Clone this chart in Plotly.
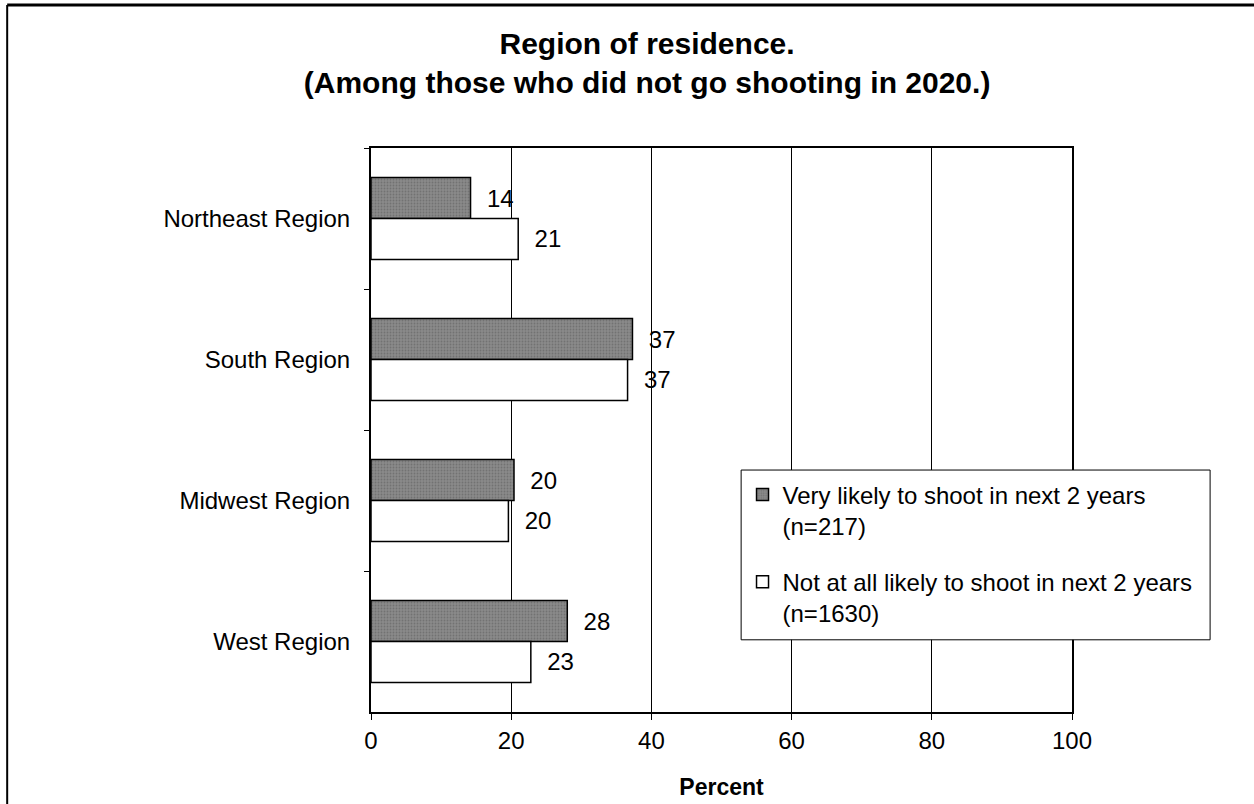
import plotly.graph_objects as go

regions = ["Northeast Region", "South Region", "Midwest Region", "West Region"]
very_likely = [14.2, 37.3, 20.4, 28.0]
not_likely = [21.0, 36.6, 19.6, 22.8]
very_name = "Very likely to shoot in next 2 years<br>(n=217)"
not_name = "Not at all likely to shoot in next 2 years<br>(n=1630)"
x_ticks = [0, 20, 40, 60, 80, 100]

font = "Liberation Sans, Arial, sans-serif"

fig = go.Figure()
fig.add_trace(go.Bar(
    y=regions, x=very_likely, name=very_name, orientation="h", legendgroup="very",
    marker=dict(color="#7c7c7c", line=dict(color="black", width=1.5),
                pattern=dict(shape=".", fgcolor="#5a5a5a", bgcolor="#8a8a8a", size=3, solidity=0.3)),
    texttemplate="  %{x:.0f}", textposition="outside", constraintext="none",
    textfont=dict(size=24, color="black", family=font), cliponaxis=False,
))
fig.add_trace(go.Bar(
    y=regions, x=not_likely, name=not_name, orientation="h", legendgroup="not",
    marker=dict(color="white", line=dict(color="black", width=1.5)),
    texttemplate="  %{x:.0f}", textposition="outside", constraintext="none",
    textfont=dict(size=24, color="black", family=font), cliponaxis=False,
))

fig.update_layout(
    width=1254, height=804,
    margin=dict(l=371, r=182, t=148, b=92),
    paper_bgcolor="white", plot_bgcolor="white",
    font=dict(family=font, size=24, color="black"),
    title=dict(text="<b>Region of residence.<br>(Among those who did not go shooting in 2020.)</b>",
               x=0.516, xref="container", xanchor="center", y=0.933, yanchor="top",
               font=dict(size=30, family=font)),
    barmode="group", bargap=0.42, bargroupgap=0,
    showlegend=True,
    legend=dict(x=0.53, y=0.425, xanchor="left", yanchor="top",
                borderwidth=0, bgcolor="rgba(0,0,0,0)",
                font=dict(size=24, family=font), itemwidth=30, valign="top",
                tracegroupgap=22, traceorder="grouped"),
)
fig.update_xaxes(
    range=[0, 100], tickvals=x_ticks, showgrid=True, gridcolor="black", gridwidth=1,
    showline=True, linecolor="black", linewidth=2, mirror=True,
    ticks="outside", ticklen=6, tickcolor="black", automargin=False,
    title=dict(text="<b>Percent</b>", font=dict(size=23), standoff=26),
    zeroline=False,
)
fig.update_yaxes(
    autorange="reversed", showline=True, linecolor="black", linewidth=2, mirror=True,
    ticks="outside", ticklen=5, tickson="boundaries", tickcolor="black",
    ticklabelstandoff=14, showgrid=False, automargin=False,
)

# legend box, white so the grid does not show through
fig.add_shape(type="rect", xref="paper", yref="paper",
              x0=0.528, x1=1.197, y0=0.128, y1=0.429,
              line=dict(color="black", width=1), fillcolor="white", layer="above")

# outer frame (top and left edges of the page)
fig.add_shape(type="line", xref="paper", yref="paper",
              x0=-0.519, x1=1.3, y0=1.2535, y1=1.2535,
              line=dict(color="black", width=3), layer="above")
fig.add_shape(type="line", xref="paper", yref="paper",
              x0=-0.519, x1=-0.519, y0=-0.2, y1=1.2535,
              line=dict(color="black", width=2), layer="above")

fig.write_html("out.html", config={"displayModeBar": False},
               post_script="document.body.style.margin='0px';")
